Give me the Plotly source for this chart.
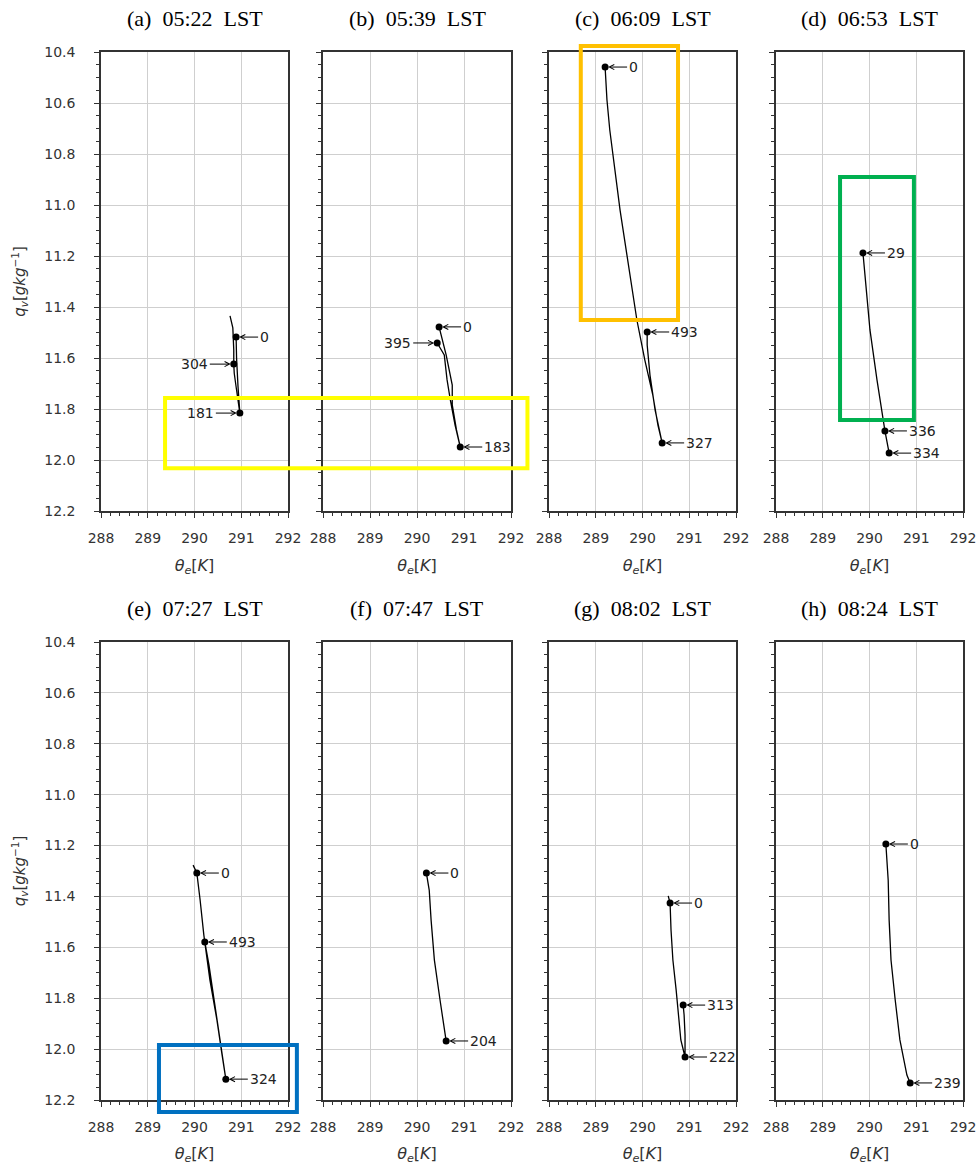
import plotly.graph_objects as go

# ---------------- data ----------------
panel_titles = ["(a)\u00a0\u00a005:22\u00a0\u00a0LST", "(b)\u00a0\u00a005:39\u00a0\u00a0LST",
                "(c)\u00a0\u00a006:09\u00a0\u00a0LST", "(d)\u00a0\u00a006:53\u00a0\u00a0LST",
                "(e)\u00a0\u00a007:27\u00a0\u00a0LST", "(f)\u00a0\u00a007:47\u00a0\u00a0LST",
                "(g)\u00a0\u00a008:02\u00a0\u00a0LST", "(h)\u00a0\u00a008:24\u00a0\u00a0LST"]

x_ticks = [288, 289, 290, 291, 292]
y_ticks = [10.4, 10.6, 10.8, 11.0, 11.2, 11.4, 11.6, 11.8, 12.0, 12.2]

# trajectories (theta_e [K], q_v [g/kg])
a_theta = [290.89, 290.90, 290.93, 290.97, 290.88, 290.85, 290.84, 290.84, 290.82, 290.76]
a_q     = [11.518, 11.60, 11.71, 11.816, 11.70, 11.66, 11.624, 11.569, 11.482, 11.435]
b_theta = [290.47, 290.62, 290.75, 290.75, 290.84, 290.92, 290.81, 290.71, 290.64, 290.58, 290.43]
b_q     = [11.478, 11.588, 11.706, 11.784, 11.882, 11.949, 11.863, 11.765, 11.686, 11.588, 11.541]
c_theta = [289.20, 289.24, 289.30, 289.41, 289.52, 289.65, 289.78, 289.88, 290.05, 290.22, 290.33,
           290.42, 290.27, 290.16, 290.10, 290.10]
c_q     = [10.459, 10.588, 10.706, 10.863, 11.020, 11.176, 11.333, 11.451, 11.608, 11.745, 11.863,
           11.933, 11.804, 11.667, 11.549, 11.498]
d_theta = [289.86, 289.93, 290.01, 290.16, 290.31, 290.33, 290.42]
d_q     = [11.188, 11.333, 11.490, 11.686, 11.863, 11.886, 11.973]
e_theta = [289.97, 290.05, 290.12, 290.20, 290.33, 290.48, 290.59, 290.67, 290.55, 290.42, 290.31, 290.22]
e_q     = [11.277, 11.308, 11.414, 11.552, 11.729, 11.886, 12.023, 12.118, 11.964, 11.807, 11.670, 11.579]
f_theta = [290.20, 290.26, 290.30, 290.37, 290.49, 290.62]
f_q     = [11.308, 11.375, 11.493, 11.650, 11.807, 11.968]
g_theta = [290.55, 290.59, 290.61, 290.65, 290.72, 290.82, 290.91, 290.91, 290.89, 290.87]
g_q     = [11.398, 11.426, 11.532, 11.650, 11.768, 11.964, 12.031, 11.945, 11.866, 11.827]
h_theta = [290.35, 290.40, 290.42, 290.46, 290.55, 290.65, 290.80, 290.87]
h_q     = [11.194, 11.336, 11.493, 11.650, 11.807, 11.964, 12.102, 12.133]

# labelled points
a_pts = {"theta": [290.89, 290.84, 290.97], "q": [11.518, 11.624, 11.816], "label": ["0", "304", "181"]}
b_pts = {"theta": [290.47, 290.43, 290.92], "q": [11.478, 11.541, 11.949], "label": ["0", "395", "183"]}
c_pts = {"theta": [289.20, 290.10, 290.42], "q": [10.459, 11.498, 11.933], "label": ["0", "493", "327"]}
d_pts = {"theta": [289.86, 290.33, 290.42], "q": [11.188, 11.886, 11.973], "label": ["29", "336", "334"]}
e_pts = {"theta": [290.05, 290.22, 290.67], "q": [11.308, 11.579, 12.118], "label": ["0", "493", "324"]}
f_pts = {"theta": [290.20, 290.62], "q": [11.308, 11.968], "label": ["0", "204"]}
g_pts = {"theta": [290.59, 290.87, 290.91], "q": [11.426, 11.827, 12.031], "label": ["0", "313", "222"]}
h_pts = {"theta": [290.35, 290.87], "q": [11.194, 12.133], "label": ["0", "239"]}

# ---------------- layout / styling ----------------
W, H = 979, 1165
col_px = [(101, 288), (323, 511), (549, 736), (776, 963)]
row_px = [(52, 511), (642, 1100)]

paths = [(a_theta, a_q), (b_theta, b_q), (c_theta, c_q), (d_theta, d_q),
         (e_theta, e_q), (f_theta, f_q), (g_theta, g_q), (h_theta, h_q)]
pts = [a_pts, b_pts, c_pts, d_pts, e_pts, f_pts, g_pts, h_pts]
left_labels = {(0, "304"), (0, "181"), (1, "395")}

TICKFONT = dict(family="DejaVu Sans", size=14, color="#333333")

def xdom(c):
    return [col_px[c][0] / W, col_px[c][1] / W]

def ydom(r):
    return [1 - row_px[r][1] / H, 1 - row_px[r][0] / H]

fig = go.Figure()
layout = {}
for i in range(8):
    r, c = divmod(i, 4)
    n = "" if i == 0 else str(i + 1)
    xa, ya = "x" + n, "y" + n
    th, q = paths[i]
    fig.add_trace(go.Scatter(x=th, y=q, mode="lines", line=dict(color="black", width=1.3),
                             xaxis=xa, yaxis=ya, showlegend=False, hoverinfo="skip"))
    p = pts[i]
    fig.add_trace(go.Scatter(x=p["theta"], y=p["q"], mode="markers",
                             marker=dict(color="black", size=7),
                             xaxis=xa, yaxis=ya, showlegend=False, hoverinfo="skip"))
    for tx, tq, lab in zip(p["theta"], p["q"], p["label"]):
        left = (i, lab) in left_labels
        fig.add_annotation(x=tx, y=tq, xref=xa, yref=ya, text=lab, showarrow=True,
                           ax=-24 if left else 22, ay=0, xanchor="right" if left else "left",
                           arrowhead=5, arrowsize=1, arrowwidth=1, arrowcolor="black",
                           standoff=3, font=dict(family="DejaVu Sans", size=14, color="#222222"))
    layout["xaxis" + n] = dict(domain=xdom(c), range=[288, 292], anchor=ya, automargin=False,
                               tickvals=x_ticks, ticktext=[str(v) for v in x_ticks],
                               showgrid=True, gridcolor="#cfcfcf", gridwidth=1,
                               showline=True, linecolor="#333333", linewidth=1.5, mirror=True,
                               ticks="outside", ticklen=5, tickcolor="#333333", tickwidth=1,
                               ticklabelposition="outside", ticklabelstandoff=8,
                               minor=dict(ticks="outside", ticklen=3, dtick=0.2, tick0=288,
                                          tickcolor="#333333", showgrid=False),
                               tickfont=TICKFONT, zeroline=False,
                               title=dict(text="<i>θ</i><sub><i>e</i></sub>[<i>K</i>]",
                                          font=dict(family="DejaVu Sans", size=16, color="#333333")))
    layout["yaxis" + n] = dict(domain=ydom(r), range=[12.2, 10.4], anchor=xa, automargin=False,
                               tickvals=y_ticks, ticktext=["%.1f" % v for v in y_ticks],
                               showticklabels=(c == 0),
                               ticklabelposition="outside", ticklabelstandoff=16,
                               showgrid=True, gridcolor="#cfcfcf", gridwidth=1,
                               showline=True, linecolor="#333333", linewidth=1.5, mirror=True,
                               ticks="outside", ticklen=5, tickcolor="#333333", tickwidth=1,
                               minor=dict(ticks="outside", ticklen=3, dtick=0.05, tick0=10.4,
                                          tickcolor="#333333", showgrid=False),
                               tickfont=TICKFONT, zeroline=False,
                               title=dict(text="<i>q</i><sub><i>v</i></sub>[<i>gkg</i><sup>−1</sup>]"
                                          if c == 0 else "",
                                          font=dict(family="DejaVu Sans", size=15, color="#333333")))
    # panel title
    d = xdom(c)
    fig.add_annotation(x=(d[0] + d[1]) / 2, y=1 - (row_px[r][0] - 34) / H, xref="paper", yref="paper",
                       text=panel_titles[i], showarrow=False, xanchor="center", yanchor="middle",
                       font=dict(family="Liberation Serif", size=22, color="black"))

# highlight boxes (data coordinates of the panel they belong to)
def px_(c, th):
    d = xdom(c)
    return d[0] + (th - 288) / 4 * (d[1] - d[0])

def py_(r, q):
    d = ydom(r)
    return d[1] - (q - 10.4) / 1.8 * (d[1] - d[0])

boxes = [  # (col0, th0, col1, th1, row, q0, q1, colour)
    (0, 289.37, 1, 292.35, 0, 11.757, 12.032, "#FFFF00"),
    (2, 288.68, 2, 290.76, 0, 10.376, 11.451, "#FFC000"),
    (3, 289.37, 3, 290.95, 0, 10.890, 11.843, "#00B050"),
    (0, 289.24, 0, 292.19, 1, 11.984, 12.247, "#0070C0"),
]
for c0, t0, c1, t1, r, q0, q1, col in boxes:
    fig.add_shape(type="rect", xref="paper", yref="paper",
                  x0=px_(c0, t0), x1=px_(c1, t1), y0=py_(r, q0), y1=py_(r, q1),
                  line=dict(color=col, width=4), fillcolor="rgba(0,0,0,0)", layer="above")

fig.update_layout(width=W, height=H, margin=dict(l=0, r=0, t=0, b=0),
                  plot_bgcolor="white", paper_bgcolor="white", **layout)
fig.write_html("out.html")
